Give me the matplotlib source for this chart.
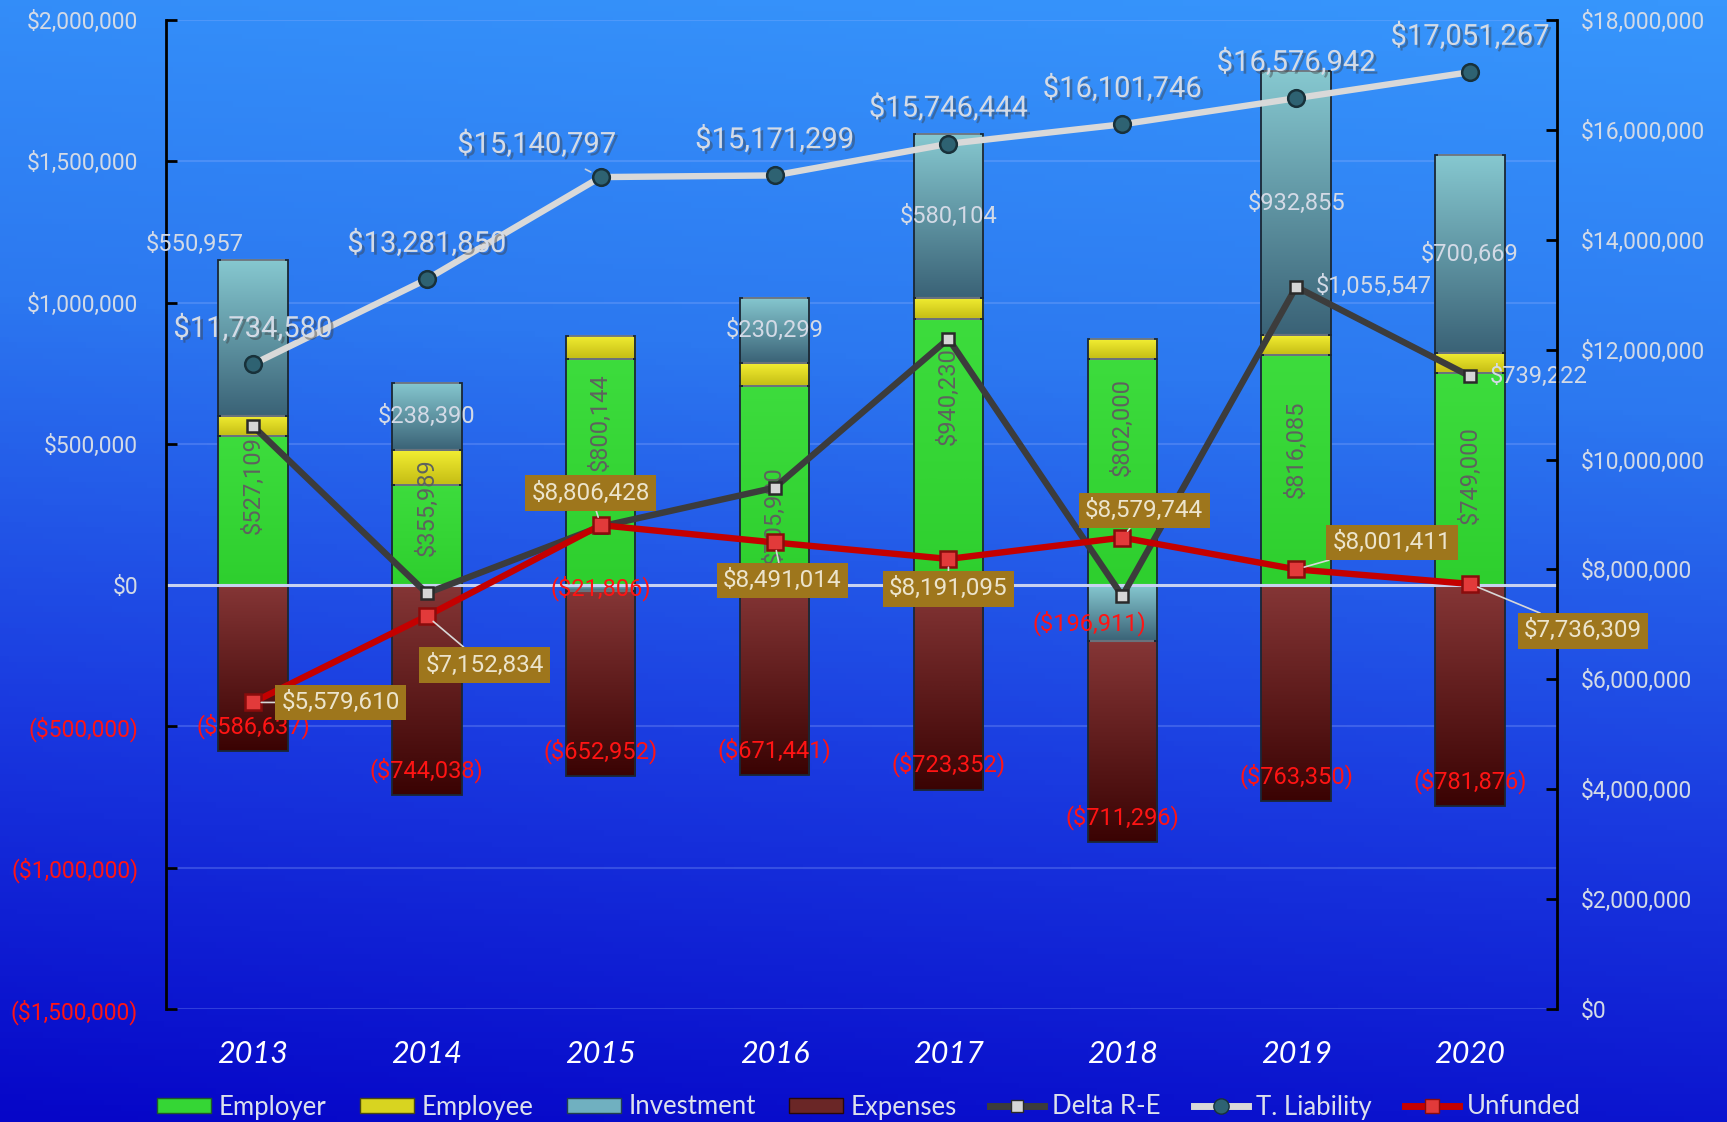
import numpy as np
import matplotlib
matplotlib.use('Agg')
import matplotlib.pyplot as plt
import matplotlib.patheffects as pe
from matplotlib.colors import LinearSegmentedColormap
from matplotlib.lines import Line2D
from matplotlib.patches import Patch

# pension fund flows by plan year
years = ['2013', '2014', '2015', '2016', '2017', '2018', '2019', '2020']
employer = [527109, 355989, 800144, 705980, 940230, 802000, 816085, 749000]
employee = [72000, 121000, 82000, 80000, 75000, 68000, 70000, 71400]
investment = [550957, 238390, -21806, 230299, 580104, -196911, 932855, 700669]
expenses = [-586637, -744038, -652952, -671441, -723352, -711296, -763350, -781876]
delta_re = [563400, -28700, 207400, 344800, 872000, -38200, 1055547, 739222]
total_liability = [11734580, 13281850, 15140797, 15171299, 15746444, 16101746, 16576942, 17051267]
unfunded = [5579610, 7152834, 8806428, 8491014, 8191095, 8579744, 8001411, 7736309]

NUM_FONT = 'Roboto'
TXT_FONT = 'Lato'
LIGHT = '#d3dae6'
RED = '#ff1414'


def money(v):
    return f'${v:,.0f}' if v >= 0 else f'(${-v:,.0f})'


def gradient_bars(ax, x, heights, bottoms, top_col, bot_col, width, zorder):
    """Bars filled with a vertical colour ramp, clipped to each rectangle."""
    bars = ax.bar(x, heights, width, bottom=bottoms, color='none',
                  edgecolor='#1a2735', linewidth=1.3, zorder=zorder + 0.1)
    cmap = LinearSegmentedColormap.from_list('ramp', [bot_col, top_col])
    grad = np.linspace(0, 1, 256).reshape(-1, 1)
    for rect in bars:
        x0, y0 = rect.get_x(), rect.get_y()
        w, h = rect.get_width(), rect.get_height()
        if h == 0:
            continue
        lo, hi = min(y0, y0 + h), max(y0, y0 + h)
        im = ax.imshow(grad, cmap=cmap, origin='lower', aspect='auto',
                       extent=[x0, x0 + w, lo, hi], zorder=zorder,
                       interpolation='bicubic')
        im.set_clip_path(rect)
        # thin glossy rim along the top of each segment
        ax.plot([x0 + w * 0.04, x0 + w * 0.96], [hi, hi], color='white',
                alpha=0.35, lw=1.5, zorder=zorder + 0.2, solid_capstyle='butt')
    return bars


fig = plt.figure(figsize=(17.27, 11.22), dpi=100)

# background wash
bg = fig.add_axes([0, 0, 1, 1], zorder=-10)
yy, xx = np.mgrid[0:1:200j, 0:1:200j]
bg_cmap = LinearSegmentedColormap.from_list('bg', ['#0606c8', '#1a3ae0', '#2c78f0', '#3796fc'])
bg.imshow(yy * 0.9 + xx * 0.1, cmap=bg_cmap, origin='lower', aspect='auto',
          extent=[0, 1, 0, 1], vmin=0, vmax=1)
bg.axis('off')

ax = fig.add_axes([166 / 1727, 1 - 1009 / 1122, (1557 - 166) / 1727, (1009 - 20) / 1122])
ax.set_facecolor('none')

x = np.arange(len(years))
width = 0.4
emp = np.array(employer)
ee = np.array(employee)
inv = np.array(investment)
exp_ = np.array(expenses)

inv_bottom = np.where(inv >= 0, emp + ee, 0)
exp_bottom = np.where(inv < 0, inv, 0)

gradient_bars(ax, x, emp, 0, '#3ddc3d', '#2ecf2e', width, 2)
gradient_bars(ax, x, ee, emp, '#f2ee32', '#c4bc14', width, 2)
gradient_bars(ax, x, inv, inv_bottom, '#86c8d0', '#3a6276', width, 2)
gradient_bars(ax, x, exp_, exp_bottom, '#853636', '#3a0303', width, 2)

# grid and zero line
for v in np.arange(-1.5e6, 2.0e6 + 1, 5e5):
    if v != 0:
        ax.axhline(v, color='#9fb8ff', alpha=0.25, lw=1.5, zorder=1)
ax.axhline(0, color='#c8d2f0', lw=2.2, zorder=2.5)

# delta receipts minus expenses on the left axis
ax.plot(x, delta_re, color='#3c3c3c', lw=4.6, zorder=5, marker='s', markersize=8.5,
        markerfacecolor='#d6d6d6', markeredgecolor='#2a2a2a', markeredgewidth=1.8)

ax.set_xlim(-0.5, len(years) - 0.5)
ax.set_ylim(-1.5e6, 2.0e6)

left_ticks = np.arange(-1.5e6, 2.0e6 + 1, 5e5)
ax.set_yticks(left_ticks)
ax.set_yticklabels([money(v) for v in left_ticks])
for lab, v in zip(ax.get_yticklabels(), left_ticks):
    lab.set_color(RED if v < 0 else LIGHT)
    lab.set_fontfamily(NUM_FONT)
    lab.set_fontsize(16.5)
ax.tick_params(axis='y', direction='in', length=8, width=2, color='black', pad=20)

ax.set_xticks(x)
ax.set_xticklabels(years, fontsize=22, style='italic', color='white', family=TXT_FONT)
ax.tick_params(axis='x', length=0, pad=22)

for side in ['top', 'bottom']:
    ax.spines[side].set_visible(False)
ax.spines['left'].set_linewidth(2)
ax.spines['left'].set_color('black')

# employer labels, rotated inside the green segment
employer_label_frac = [0.67, 0.77, 0.72, 0.35, 0.71, 0.70, 0.59, 0.52]
for i, v in enumerate(employer):
    ax.text(i, v * employer_label_frac[i], money(v), rotation=90, ha='center', va='center',
            color='#5e625e', fontsize=17, family=NUM_FONT, zorder=4)

# investment labels at segment centre, a couple nudged aside
inv_label_shift = {0: (-58, 94), 5: (-33, -10)}
for i, v in enumerate(investment):
    yc = inv_bottom[i] + v / 2
    dx, dy = inv_label_shift.get(i, (0, 0))
    ax.annotate(money(v), (i, yc), xytext=(dx, dy), textcoords='offset pixels',
                ha='center', va='center', fontsize=17, family=NUM_FONT,
                color=RED if v < 0 else LIGHT, zorder=4)

# expense labels just inside the bar base
for i, v in enumerate(expenses):
    ax.annotate(money(v), (i, exp_bottom[i] + v), xytext=(0, 25), textcoords='offset pixels',
                ha='center', va='center', fontsize=17, family=NUM_FONT, color=RED, zorder=4)

# delta labels for the last two years
for i in [6, 7]:
    ax.annotate(money(delta_re[i]), (i, delta_re[i]), xytext=(20, 0), textcoords='offset pixels',
                ha='left', va='center', fontsize=17, family=NUM_FONT, color=LIGHT, zorder=6)

# right axis: liability and unfunded amounts
ax2 = ax.twinx()
ax2.set_ylim(0, 18e6)
ax2.plot(x, total_liability, color='#d9d9d9', lw=4.6, zorder=3, marker='o', markersize=12,
         markerfacecolor='#2e6272', markeredgecolor='#18313a', markeredgewidth=1.8)
ax2.plot(x, unfunded, color='#c40000', lw=4.6, zorder=4, marker='s', markersize=11,
         markerfacecolor='#e23a3a', markeredgecolor='#8a0c0c', markeredgewidth=1.8)

right_ticks = np.arange(0, 18e6 + 1, 2e6)
ax2.set_yticks(right_ticks)
ax2.set_yticklabels([money(v) for v in right_ticks], color=LIGHT, fontsize=16.5,
                    family=NUM_FONT)
ax2.tick_params(axis='y', direction='in', length=8, width=2, color='black', pad=17)
for side in ['top', 'bottom', 'left']:
    ax2.spines[side].set_visible(False)
ax2.spines['right'].set_linewidth(2)
ax2.spines['right'].set_color('black')

shadow = [pe.SimplePatchShadow(offset=(2, -2), alpha=0.45), pe.Normal()]
liability_offsets = [(0, 36), (0, 36), (-64, 33), (0, 36), (0, 36), (0, 36), (0, 36), (0, 36)]
for i, v in enumerate(total_liability):
    dx, dy = liability_offsets[i]
    arrow = dict(arrowstyle='-', color='#c8d0dc', lw=1.2, shrinkA=12, shrinkB=8) if dx else None
    t = ax2.annotate(money(v), (i, v), xytext=(dx, dy), textcoords='offset pixels',
                     ha='center', va='center', fontsize=21, family=NUM_FONT, color='#d4dbe6',
                     arrowprops=arrow, zorder=6)
    t.set_path_effects(shadow)

unfunded_offsets = [(88, 0), (58, -49), (-10, 32), (8, -38), (0, -30), (22, 27), (96, 27), (113, -47)]
for i, v in enumerate(unfunded):
    dx, dy = unfunded_offsets[i]
    ax2.annotate(money(v), (i, v), xytext=(dx, dy), textcoords='offset pixels',
                 ha='center', va='center', fontsize=17.5, family=NUM_FONT, color='#ece4cc',
                 bbox=dict(boxstyle='square,pad=0.26', fc='#9e761c', ec='none'),
                 arrowprops=dict(arrowstyle='-', color='#d8d8d8', lw=1.2, shrinkA=0, shrinkB=6),
                 zorder=7)

handles = [
    Patch(facecolor='#35d635', edgecolor='#1f5a2a', label='Employer'),
    Patch(facecolor='#d8d420', edgecolor='#4a4a10', label='Employee'),
    Patch(facecolor='#70b0c0', edgecolor='#22404e', label='Investment'),
    Patch(facecolor='#6a2626', edgecolor='#2a0808', label='Expenses'),
    Line2D([], [], color='#3c3c3c', lw=5, marker='s', markersize=8,
           markerfacecolor='#d6d6d6', markeredgecolor='#2a2a2a', label='Delta R-E'),
    Line2D([], [], color='#d9d9d9', lw=5, marker='o', markersize=11,
           markerfacecolor='#2e6272', markeredgecolor='#18313a', label='T. Liability'),
    Line2D([], [], color='#c40000', lw=5, marker='s', markersize=10,
           markerfacecolor='#e23a3a', markeredgecolor='#8a0c0c', label='Unfunded'),
]
leg = fig.legend(handles=handles, loc='center', bbox_to_anchor=(0.503, 1 - 1107 / 1122), ncol=7,
                 frameon=False, handlelength=2.1, handleheight=0.5, handletextpad=0.3,
                 columnspacing=1.3, prop={'family': TXT_FONT, 'size': 18.5})
for t in leg.get_texts():
    t.set_color('#dde1ec')

fig.savefig('out.png', dpi=100)
